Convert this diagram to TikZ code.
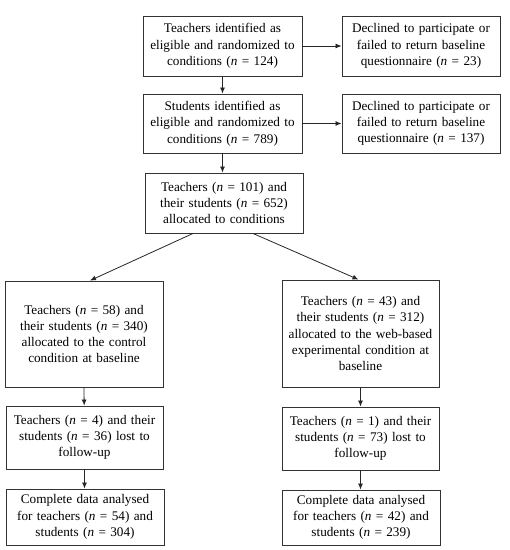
\documentclass[tikz,border=0pt]{standalone}
\usepackage{fontspec}
\setmainfont{Liberation Serif}
\usetikzlibrary{arrows.meta}
\newcommand{\nn}{\textit{n}}
\begin{document}
\begin{tikzpicture}[x=1pt,y=-1pt,
  box/.style={draw=black!80,line width=0.9pt,align=center,inner sep=0pt,
    font=\fontsize{13.2}{16.3}\selectfont,text width=154pt},
  arr/.style={draw=black!85,line width=0.8pt,-{Latex[length=6pt,width=5pt]}}]
\useasboundingbox (0,0) rectangle (510,550);
\node[box,minimum width=159pt,minimum height=60pt] (b1) at (222.5,46) {Teachers identified as\\eligible and randomized to\\conditions (\nn{} = 124)};
\node[box,minimum width=158pt,minimum height=60pt] (d1) at (421,46) {Declined to participate or\\failed to return baseline\\questionnaire (\nn{} = 23)};
\node[box,minimum width=159pt,minimum height=59pt] (b2) at (222.5,123.5) {Students identified as\\eligible and randomized to\\conditions (\nn{} = 789)};
\node[box,minimum width=158pt,minimum height=59pt] (d2) at (421,123.5) {Declined to participate or\\failed to return baseline\\questionnaire (\nn{} = 137)};
\node[box,minimum width=158pt,minimum height=60pt] (b3) at (224,203) {Teachers (\nn{} = 101) and\\their students (\nn{} = 652)\\allocated to conditions};
\node[box,minimum width=158pt,minimum height=106pt] (l1) at (84,334) {Teachers (\nn{} = 58) and\\their students (\nn{} = 340)\\allocated to the control\\condition at baseline};
\node[box,minimum width=157pt,minimum height=107pt] (r1) at (360.5,333.5) {Teachers (\nn{} = 43) and\\their students (\nn{} = 312)\\allocated to the web-based\\experimental condition at\\baseline};
\node[box,minimum width=157pt,minimum height=63pt] (l2) at (84.5,437.5) {Teachers (\nn{} = 4) and their\\students (\nn{} = 36) lost to\\follow-up};
\node[box,minimum width=157pt,minimum height=63pt] (r2) at (360.5,438.5) {Teachers (\nn{} = 1) and their\\students (\nn{} = 73) lost to\\follow-up};
\node[box,minimum width=158pt,minimum height=56pt] (l3) at (85,517) {Complete data analysed\\for teachers (\nn{} = 54) and\\students (\nn{} = 304)};
\node[box,minimum width=158pt,minimum height=55pt] (r3) at (361,517.5) {Complete data analysed\\for teachers (\nn{} = 42) and\\students (\nn{} = 239)};
\draw[arr] (b1) -- (d1);
\draw[arr] (b2) -- (d2);
\draw[arr] (b1) -- (b2);
\draw[arr] (b2.south) -- (b2.south |- b3.north);
\draw[arr] ([xshift=-31pt]b3.south) -- ([xshift=6pt]l1.north);
\draw[arr] ([xshift=29pt]b3.south) -- ([xshift=-2pt]r1.north);
\draw[arr] (l1.south) -- (l2);
\draw[arr] (l2) -- (l2.south |- l3.north);
\draw[arr] (r1.south) -- (r2);
\draw[arr] (r2) -- (r2.south |- r3.north);
\end{tikzpicture}
\end{document}
